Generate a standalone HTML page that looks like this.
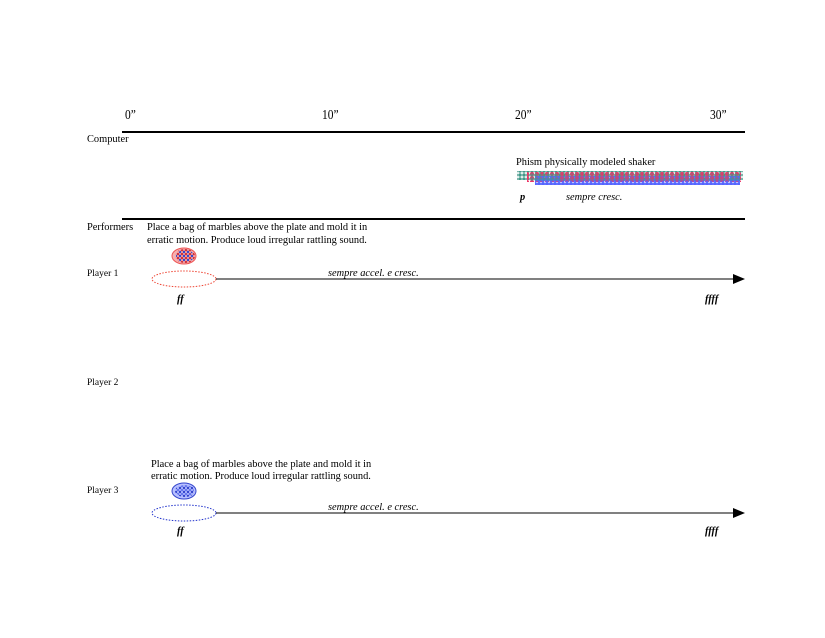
<!DOCTYPE html>
<html><head><meta charset="utf-8"><style>
body{margin:0;background:#fff;width:825px;height:638px;overflow:hidden;font-family:"Liberation Serif",serif;color:#000}
.t{position:absolute;white-space:nowrap;font-size:10.4px;line-height:13px}
.h{font-size:13.5px;transform:scaleX(0.85);transform-origin:0 0}
.i{font-style:italic}
.b{font-style:italic;font-weight:bold;font-family:"Liberation Serif",serif}
</style></head><body>
<svg width="825" height="638" style="position:absolute;left:0;top:0">
<defs>
<pattern id="pr" width="5" height="4" patternUnits="userSpaceOnUse"><circle cx="2" cy="2" r="2" fill="#ee3366"/></pattern>
<pattern id="pg" width="4" height="4" patternUnits="userSpaceOnUse" x="2" y="1"><circle cx="2" cy="2" r="1.8" fill="#44998a"/></pattern>
<pattern id="pb" width="4" height="4" patternUnits="userSpaceOnUse" x="1" y="2"><circle cx="2" cy="2" r="2" fill="#5566ff"/></pattern>
<pattern id="dr" width="4" height="4" patternUnits="userSpaceOnUse"><circle cx="2" cy="2" r="1.3" fill="#d0303a"/></pattern>
<pattern id="db" width="4" height="4" patternUnits="userSpaceOnUse" x="2" y="2"><circle cx="2" cy="2" r="1.2" fill="#3344cc"/></pattern>
<pattern id="dw" width="4" height="4" patternUnits="userSpaceOnUse"><circle cx="2" cy="2" r="1.3" fill="#6677ee"/></pattern>
</defs>
<line x1="122" y1="132" x2="745" y2="132" stroke="#000" stroke-width="2"/>
<line x1="122" y1="219" x2="745" y2="219" stroke="#000" stroke-width="2"/>
<rect x="517" y="171" width="226" height="9" fill="url(#pg)"/>
<rect x="527" y="172" width="214" height="10" fill="url(#pr)"/>
<rect x="535" y="176" width="205" height="9" fill="url(#pb)"/>
<rect x="530" y="173" width="210" height="8" fill="url(#pg)" opacity=".7"/>
<rect x="560" y="174" width="170" height="7" fill="url(#pr)" opacity=".6"/>
<ellipse cx="184" cy="256" rx="12" ry="8" fill="#f6b0b0" stroke="#ee5555"/>
<ellipse cx="185" cy="256" rx="10" ry="7" fill="url(#dr)"/>
<ellipse cx="185" cy="256" rx="9" ry="6" fill="url(#db)"/>
<ellipse cx="184" cy="279" rx="32" ry="8" fill="none" stroke="#ee4433" stroke-dasharray="1.5 1.5"/>
<line x1="216" y1="279" x2="735" y2="279" stroke="#000" stroke-width="1"/>
<polygon points="733,274 745,279 733,284" fill="#000"/>
<ellipse cx="184" cy="491" rx="12" ry="8" fill="#b8c0ff" stroke="#3344cc"/>
<ellipse cx="185" cy="491" rx="10" ry="6" fill="url(#db)"/>
<ellipse cx="185" cy="491" rx="9" ry="6" fill="url(#dw)"/>
<ellipse cx="184" cy="513" rx="32" ry="8" fill="none" stroke="#2233cc" stroke-dasharray="1.5 1.5"/>
<line x1="216" y1="513" x2="735" y2="513" stroke="#000" stroke-width="1"/>
<polygon points="733,508 745,513 733,518" fill="#000"/>
</svg>
<div class="t h" style="left:125px;top:108px">0”</div>
<div class="t h" style="left:322px;top:108px">10”</div>
<div class="t h" style="left:515px;top:108px">20”</div>
<div class="t h" style="left:710px;top:108px">30”</div>
<div class="t" style="left:87px;top:133px">Computer</div>
<div class="t" style="left:516px;top:156px">Phism physically modeled shaker</div>
<div class="t b" style="left:520px;top:191px">p</div>
<div class="t i" style="left:566px;top:191px">sempre cresc.</div>
<div class="t" style="left:87px;top:221px">Performers</div>
<div class="t" style="left:147px;top:221px">Place a bag of marbles above the plate and mold it in</div>
<div class="t" style="left:147px;top:234px">erratic motion. Produce loud irregular rattling sound.</div>
<div class="t" style="left:87px;top:268px;font-size:9.5px">Player 1</div>
<div class="t i" style="left:328px;top:267px">sempre accel. e cresc.</div>
<div class="t b" style="left:177px;top:293px">ff</div>
<div class="t b" style="left:705px;top:293px">ffff</div>
<div class="t" style="left:87px;top:377px;font-size:9.5px">Player 2</div>
<div class="t" style="left:151px;top:458px">Place a bag of marbles above the plate and mold it in</div>
<div class="t" style="left:151px;top:470px">erratic motion. Produce loud irregular rattling sound.</div>
<div class="t" style="left:87px;top:485px;font-size:9.5px">Player 3</div>
<div class="t i" style="left:328px;top:501px">sempre accel. e cresc.</div>
<div class="t b" style="left:177px;top:525px">ff</div>
<div class="t b" style="left:705px;top:525px">ffff</div>
</body></html>
